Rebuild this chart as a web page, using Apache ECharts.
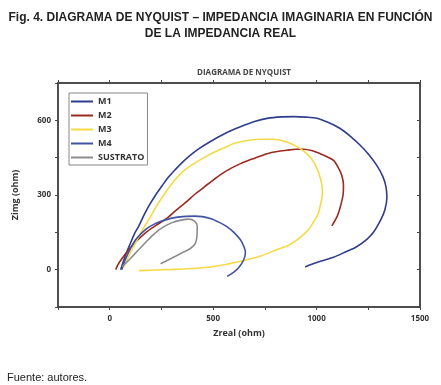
<!DOCTYPE html>
<html>
<head>
<meta charset="utf-8">
<script src="https://cdn.jsdelivr.net/npm/echarts@6/dist/echarts.min.js"></script>
<style>
  html, body { margin: 0; padding: 0; background: #fff; }
  #chart { width: 441px; height: 385px; }
</style>
</head>
<body>
<div id="chart"></div>
<script>
// data (Zreal, Zimg) in ohm
const seriesNames = ['M1', 'M2', 'M3', 'M4', 'SUSTRATO']
const colors = ['#2f3d8f', '#9a2b1f', '#f6da45', '#4152a3', '#8c8c8c']

const m1 = [[53,0],[75,55],[101,108],[120,145],[141,176],[165,218],[190,257],[222,300],[254,338],[285,373],[318,403],[350,430],[383,455],[430,485],[487,515],[560,548],[632,574],[700,595],[761,608],[830,614],[889,615],[950,613],[1002,608],[1060,590],[1114,567],[1165,535],[1211,500],[1255,460],[1291,419],[1320,375],[1335,335],[1340,290],[1330,240],[1310,200],[1275,150],[1243,122],[1190,90],[1147,74],[1082,50],[1018,34],[970,20],[945,11]]
const m2 = [[29,0],[40,20],[55,40],[93,81],[130,115],[174,149],[220,176],[270,203],[320,238],[367,270],[410,302],[455,331],[500,360],[560,395],[632,426],[700,448],[761,466],[810,475],[857,480],[900,484],[937,484],[980,478],[1018,466],[1055,452],[1082,439],[1105,410],[1122,378],[1130,340],[1128,300],[1114,250],[1100,215],[1074,176]]
const m3 = [[66,8],[95,60],[125,108],[155,155],[190,203],[230,260],[270,311],[310,355],[351,392],[400,422],[447,446],[500,470],[560,492],[600,507],[660,518],[728,524],[780,524],[825,520],[880,505],[921,486],[960,460],[986,432],[1010,390],[1026,338],[1028,300],[1021,270],[1010,230],[994,203],[960,160],[921,130],[870,100],[809,81],[730,55],[632,34],[540,18],[439,7],[300,1],[141,-4]]
const m4 = [[58,0],[75,40],[100,85],[130,125],[174,162],[220,185],[270,200],[320,210],[367,214],[410,215],[447,213],[490,205],[530,190],[568,172],[600,150],[632,120],[650,90],[656,70],[648,40],[625,10],[600,-10],[568,-27]]
const sustrato = [[61,12],[100,45],[141,81],[180,115],[222,149],[260,172],[302,189],[340,198],[383,203],[410,195],[423,176],[422,140],[415,108],[390,85],[350,68],[318,54],[280,38],[246,24]]

const xLabels = [0, 500, 1000, 1500]
const yLabels = [0, 300, 600]

const chart = echarts.init(document.getElementById('chart'))

const axisStyle = { onZero: false, lineStyle: { color: '#444', width: 1.5 } }
const labelFont = { color: '#333', fontSize: 8, fontWeight: 'bold', fontFamily: 'Open Sans' }

const option = {
  animation: false,
  title: [
    {
      text: 'Fig. 4. DIAGRAMA DE NYQUIST – IMPEDANCIA IMAGINARIA EN FUNCIÓN\nDE LA IMPEDANCIA REAL',
      left: 'center',
      top: 5,
      textStyle: { fontSize: 12, fontWeight: 'bold', color: '#222', fontFamily: 'Liberation Sans', lineHeight: 16, align: 'center' },
    },
    {
      text: 'DIAGRAMA DE NYQUIST',
      left: 239,
      top: 64,
      textAlign: 'center',
      textStyle: { fontSize: 8, fontWeight: 'bold', color: '#444', fontFamily: 'Open Sans' },
    },
    {
      text: 'Fuente: autores.',
      left: 2,
      top: 367,
      textStyle: { fontSize: 11, fontWeight: 'normal', color: '#222', fontFamily: 'Liberation Sans' },
    },
  ],
  legend: {
    data: seriesNames,
    orient: 'vertical',
    left: 69,
    top: 93,
    icon: 'rect',
    itemWidth: 22,
    itemHeight: 2,
    itemGap: 5,
    padding: [4, 3, 3, 2],
    borderColor: '#888',
    borderWidth: 1,
    textStyle: { color: '#333', fontSize: 9, fontWeight: 'bold', fontFamily: 'Open Sans' },
  },
  grid: {
    left: 58,
    right: 21,
    top: 83,
    bottom: 78,
    show: true,
    borderColor: '#444',
    borderWidth: 1.5,
  },
  xAxis: [
    {
      type: 'value',
      min: -250,
      max: 1500,
      interval: 250,
      name: 'Zreal (ohm)',
      nameLocation: 'middle',
      nameGap: 22,
      nameTextStyle: { color: '#333', fontSize: 9, fontWeight: 'bold', fontFamily: 'Open Sans' },
      axisLine: axisStyle,
      axisTick: { length: 3, lineStyle: { color: '#444' } },
      splitLine: { show: false },
      axisLabel: { ...labelFont, margin: 8, formatter: (v) => (xLabels.includes(v) ? String(v) : '') },
    },
    {
      type: 'value',
      position: 'top',
      min: -250,
      max: 1500,
      interval: 250,
      axisLine: axisStyle,
      axisTick: { length: 3, lineStyle: { color: '#444' } },
      splitLine: { show: false },
      axisLabel: { show: false },
    },
  ],
  yAxis: [
    {
      type: 'value',
      min: -150,
      max: 750,
      interval: 150,
      name: 'Zimg (ohm)',
      nameLocation: 'middle',
      nameGap: 38,
      nameTextStyle: { color: '#333', fontSize: 9, fontWeight: 'bold', fontFamily: 'Open Sans' },
      axisLine: { show: true, ...axisStyle },
      axisTick: { show: true, length: 3, lineStyle: { color: '#444' } },
      splitLine: { show: false },
      axisLabel: { ...labelFont, margin: 7, formatter: (v) => (yLabels.includes(v) ? String(v) : '') },
    },
    {
      type: 'value',
      position: 'right',
      min: -150,
      max: 750,
      interval: 150,
      axisLine: { show: true, ...axisStyle },
      axisTick: { show: true, inside: true, length: 3, lineStyle: { color: '#444' } },
      splitLine: { show: false },
      axisLabel: { show: false },
    },
  ],
  series: [m1, m2, m3, m4, sustrato].map((d, i) => ({
    name: seriesNames[i],
    type: 'line',
    data: d,
    smooth: 0.3,
    showSymbol: false,
    symbol: 'none',
    color: colors[i],
    lineStyle: { width: 1.6, color: colors[i] },
  })),
}

chart.setOption(option)
</script>
</body>
</html>
